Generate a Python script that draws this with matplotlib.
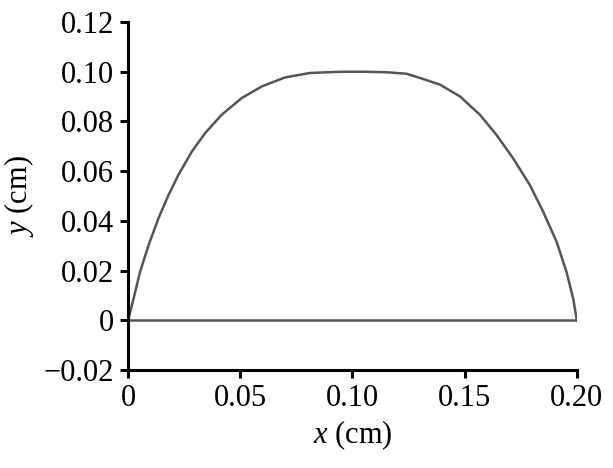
import numpy as np
import matplotlib.pyplot as plt

plt.rcParams['font.family'] = ['Liberation Serif', 'DejaVu Serif']
plt.rcParams['mathtext.fontset'] = 'custom'
plt.rcParams['mathtext.it'] = 'Liberation Serif:italic'
plt.rcParams['mathtext.rm'] = 'Liberation Serif'

# curve (cm)
x_curve = [0.0, 0.0024, 0.0053, 0.0091, 0.0135, 0.018, 0.0224, 0.0284, 0.0343,
           0.0417, 0.0506, 0.0596, 0.0699, 0.081, 0.095, 0.105, 0.115, 0.1241,
           0.1301, 0.139, 0.1479, 0.1568, 0.1642, 0.1716, 0.1791, 0.185, 0.191,
           0.1954, 0.1984, 0.2]
y_curve = [0.0, 0.0087, 0.0195, 0.0302, 0.041, 0.0504, 0.0585, 0.0679, 0.0753,
           0.0827, 0.0894, 0.0941, 0.0977, 0.0995, 0.1, 0.1, 0.0998, 0.0992,
           0.0975, 0.0948, 0.0901, 0.0827, 0.0746, 0.0652, 0.0544, 0.0437, 0.0316,
           0.0195, 0.0087, 0.0]
# base line
x_base = [0.0, 0.2]
y_base = [0.0, 0.0]

x_ticks = [0, 0.05, 0.10, 0.15, 0.20]
x_ticklabels = ['0', '0.05', '0.10', '0.15', '0.20']
y_ticks = [-0.02, 0, 0.02, 0.04, 0.06, 0.08, 0.10, 0.12]
y_ticklabels = ['\u22120.02', '0', '0.02', '0.04', '0.06', '0.08', '0.10', '0.12']

fig = plt.figure(figsize=(6.13, 4.68), dpi=100)
ax = fig.add_axes([0.209, 0.209, 0.732, 0.744])

ax.plot(x_curve, y_curve, color='#555555', lw=1.8, solid_joinstyle='round')
ax.plot(x_base, y_base, color='#555555', lw=1.8)

ax.set_xlim(0, 0.2)
ax.set_ylim(-0.02, 0.12)
ax.set_xticks(x_ticks)
ax.set_xticklabels(x_ticklabels)
ax.set_yticks(y_ticks)
ax.set_yticklabels(y_ticklabels)

for s in ['top', 'right']:
    ax.spines[s].set_visible(False)
for s in ['left', 'bottom']:
    ax.spines[s].set_linewidth(2.2)
ax.tick_params(direction='out', length=6, width=2.2, labelsize=22, pad=4)

ax.set_xlabel('$x$ (cm)', fontsize=22, labelpad=4)
ax.set_ylabel('$y$ (cm)', fontsize=22, labelpad=6)

fig.savefig('out.png', dpi=100)
